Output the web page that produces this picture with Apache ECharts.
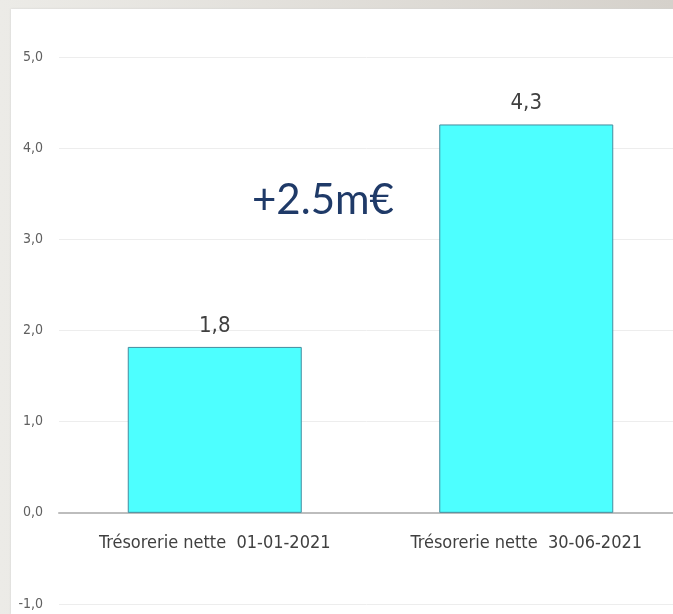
<!DOCTYPE html>
<html><head><meta charset="utf-8">
<script src="https://cdn.jsdelivr.net/npm/echarts@6/dist/echarts.min.js"></script>
<style>
html,body{margin:0;padding:0;width:673px;height:614px;overflow:hidden;background:linear-gradient(to right,#ecebe7,#d5d1cb);}
#panel{position:absolute;left:11px;top:9px;width:662px;height:605px;background:#fff;box-shadow:0 0 2px #cfcfcf;}
#chart{position:absolute;left:0;top:0;width:673px;height:614px;}
</style></head><body>
<div id="panel"></div>
<div id="chart"></div>
<script>
const categories = ['Trésorerie nette  01-01-2021', 'Trésorerie nette  30-06-2021'];
const values = [1.82, 4.26];
const yTicks = [-1, 0, 1, 2, 3, 4, 5];
const annotation = '+2.5m€';

const chart = echarts.init(document.getElementById('chart'), null, {renderer: 'canvas'});
const fmt = v => v.toFixed(1).replace('.', ',');
const narrow = 'Liberation Sans Narrow, DejaVu Sans Condensed, sans-serif';
chart.setOption({
  backgroundColor: 'transparent',
  animation: false,
  grid: {left: 59, right: -9, top: 57, bottom: 10, containLabel: false, outerBoundsMode: 'none'},
  xAxis: {
    type: 'category', data: categories,
    axisLine: {onZero: true, lineStyle: {color: '#bdbdbd', width: 2}},
    axisTick: {show: false},
    axisLabel: {color: '#404040', fontSize: 18, margin: -70, fontFamily: narrow}
  },
  yAxis: {
    type: 'value', min: yTicks[0], max: yTicks[yTicks.length - 1], interval: 1,
    axisLine: {show: false}, axisTick: {show: false},
    splitLine: {lineStyle: {color: '#ededed', width: 1}},
    axisLabel: {color: '#606060', fontSize: 14, margin: 16, formatter: fmt, fontFamily: narrow}
  },
  series: [{
    type: 'bar', data: values, barWidth: 174,
    itemStyle: {color: '#4dffff', borderColor: '#468c9e', borderWidth: 1},
    label: {show: true, position: 'top', distance: 10, color: '#404040', fontSize: 22,
      fontFamily: narrow, formatter: p => fmt(p.value)}
  }],
  graphic: [{
    type: 'text', left: 252, top: 179,
    style: {text: annotation, fill: '#1f3a68', fontSize: 42, fontFamily: 'Lato, Open Sans, sans-serif'}
  }]
});
</script>
</body></html>
